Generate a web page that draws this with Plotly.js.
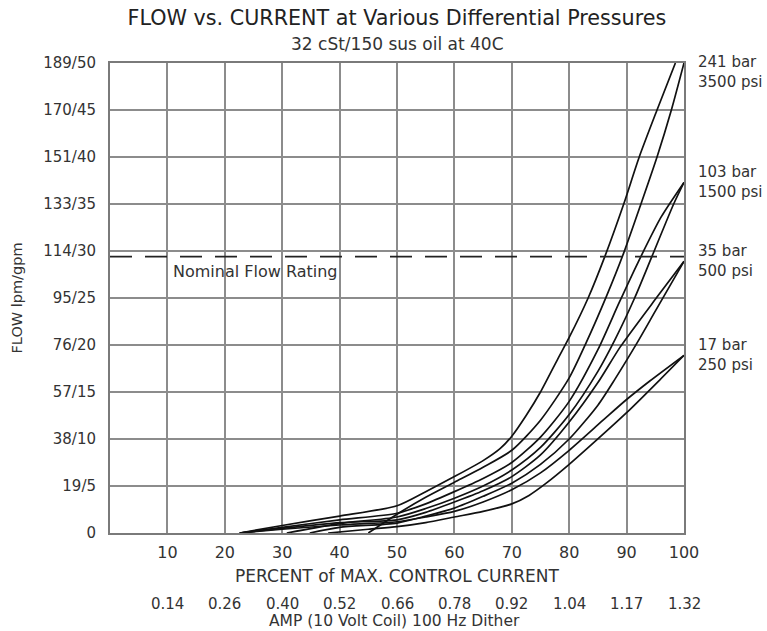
<!DOCTYPE html>
<html>
<head>
<meta charset="utf-8">
<script src="https://cdn.plot.ly/plotly-3.0.1.min.js"></script>
<style>html,body{margin:0;padding:0;background:#fff;}#chart{width:767px;height:631px;}</style>
</head>
<body>
<div id="chart"></div>
<script>
// ---- data (percent of max control current, flow gpm) ----
const pressureLabels = ["241 bar<br>3500 psi", "103 bar<br>1500 psi", "35 bar<br>500 psi", "17 bar<br>250 psi"];

const p241a_x = [22.6, 30, 40, 50, 55, 60, 65, 68, 70, 72.5, 75, 78, 80, 83.3, 86.2, 89.5, 92.2, 95.3, 98.5];
const p241a_y = [0, 0.8, 1.8, 2.9, 4.4, 6.0, 7.7, 9.0, 10.3, 12.5, 15, 18.5, 20.8, 25, 29.4, 35, 40, 45, 50];
const p241b_x = [45, 50, 55, 60, 65, 70, 75, 80, 83, 86.5, 89.5, 92.5, 95.3, 97.8, 100];
const p241b_y = [0, 2.0, 3.8, 5.4, 7.0, 8.8, 12, 16.5, 20.3, 25.2, 29.8, 35, 40, 45, 50];

const p103a_x = [22.6, 30, 40, 50, 55, 60, 65, 70, 75, 80, 85, 88.7, 92, 96, 100];
const p103a_y = [0, 0.6, 1.4, 2.1, 3.1, 4.4, 5.8, 7.5, 10.2, 14, 19.5, 24.5, 28.8, 33.6, 37.3];
const p103b_x = [30.8, 40, 50, 55, 60, 65, 70, 75, 80, 85, 88, 91.4, 94.4, 98.2, 100];
const p103b_y = [0, 1.0, 1.7, 2.6, 3.7, 5.0, 6.7, 9.1, 12.6, 17.2, 20.6, 25, 29.4, 35, 37.3];

const p35a_x = [22.6, 30, 40, 50, 55, 60, 65, 70, 75, 80, 85, 88.9, 95.3, 100];
const p35a_y = [0, 0.5, 1.1, 1.4, 2.2, 3.3, 4.5, 6.0, 8.3, 11.8, 16.0, 19.8, 25.1, 28.9];
const p35b_x = [34.8, 40, 50, 55, 60, 65, 70, 75, 80, 85, 88, 91.8, 95, 100];
const p35b_y = [0, 0.6, 1.06, 1.8, 2.65, 3.9, 5.3, 7.3, 10, 13.6, 16.4, 20.2, 23.6, 28.9];

const p17a_x = [22.6, 30, 40, 50, 55, 60, 65, 70, 75, 80, 85.9, 90, 94.1, 100];
const p17a_y = [0, 0.4, 0.85, 1.2, 1.7, 2.3, 3.3, 4.6, 6.4, 8.8, 12.0, 14.2, 16.2, 18.9];
const p17b_x = [38, 45, 50, 55, 60, 65, 70, 73, 76, 80, 84.8, 90, 95.8, 100];
const p17b_y = [0, 0.4, 0.67, 1.1, 1.7, 2.3, 3.1, 4.0, 5.3, 7.3, 9.9, 12.8, 16.3, 18.9];

const nominalFlow = 29.4;

const xTickVals = [10, 20, 30, 40, 50, 60, 70, 80, 90, 100];
const xTickText = ["10", "20", "30", "40", "50", "60", "70", "80", "90", "100"];
const ampText = ["0.14", "0.26", "0.40", "0.52", "0.66", "0.78", "0.92", "1.04", "1.17", "1.32"];
const yTickVals = [0, 5, 10, 15, 20, 25, 30, 35, 40, 45, 50];
const yTickText = ["0", "19/5", "38/10", "57/15", "76/20", "95/25", "114/30", "133/35", "151/40", "170/45", "189/50"];

// ---- chart ----
const FONT = "DejaVu Sans, Liberation Sans, Arial, sans-serif";
const TXT = "#333333";
const curveStyle = {color: "#111111", width: 1.7, shape: "spline", smoothing: 0.7};

const series = [
  [p241a_x, p241a_y, "241 bar / 3500 psi"], [p241b_x, p241b_y, "241 bar / 3500 psi"],
  [p103a_x, p103a_y, "103 bar / 1500 psi"], [p103b_x, p103b_y, "103 bar / 1500 psi"],
  [p35a_x, p35a_y, "35 bar / 500 psi"], [p35b_x, p35b_y, "35 bar / 500 psi"],
  [p17a_x, p17a_y, "17 bar / 250 psi"], [p17b_x, p17b_y, "17 bar / 250 psi"]
];

const traces = series.map(s => ({
  type: "scatter", mode: "lines", x: s[0], y: s[1], name: s[2],
  line: curveStyle, showlegend: false, hoverinfo: "x+y+name"
}));

traces.push({
  type: "scatter", mode: "lines", x: [0, 100], y: [nominalFlow, nominalFlow],
  name: "Nominal Flow Rating", showlegend: false,
  line: {color: "#222222", width: 1.6, dash: "22px,13px"}
});

const annotations = [];
// subtitle
annotations.push({
  xref: "paper", yref: "paper", x: 0.5, y: 1, yshift: 19, yanchor: "middle", xanchor: "center",
  text: "32 cSt/150 sus oil at 40C", showarrow: false, font: {family: FONT, size: 17, color: TXT}
});
// nominal flow label
annotations.push({
  xref: "x", yref: "y", x: 10.6, y: nominalFlow, yshift: -15, xanchor: "left", yanchor: "middle",
  text: "Nominal Flow Rating", showarrow: false, font: {family: FONT, size: 16, color: TXT}
});
// amp labels
xTickVals.forEach((v, i) => annotations.push({
  xref: "x", yref: "paper", x: v, y: 0, yshift: -71, xanchor: "center", yanchor: "middle",
  text: ampText[i], showarrow: false, font: {family: FONT, size: 15, color: TXT}
}));
annotations.push({
  xref: "paper", yref: "paper", x: 0.495, y: 0, yshift: -88, xanchor: "center", yanchor: "middle",
  text: "AMP (10 Volt Coil) 100 Hz Dither", showarrow: false, font: {family: FONT, size: 15.5, color: TXT}
});
// pressure labels at curve ends
const ends = [p241b_y, p103a_y, p35a_y, p17a_y];
pressureLabels.forEach((t, i) => {
  const yEnd = ends[i][ends[i].length - 1];
  annotations.push({
    xref: "paper", yref: "y", x: 1, xshift: 12, y: yEnd, yshift: i === 0 ? -9 : 0,
    xanchor: "left", yanchor: "middle", align: "left",
    text: t, showarrow: false, font: {family: FONT, size: 15, color: TXT}
  });
});

const layout = {
  width: 767, height: 631,
  margin: {l: 110, r: 83, t: 63, b: 98},
  paper_bgcolor: "#ffffff", plot_bgcolor: "#ffffff",
  font: {family: FONT, color: TXT},
  title: {
    text: "FLOW vs. CURRENT at Various Differential Pressures",
    font: {family: FONT, size: 20.7, color: "#222222"},
    x: 0.5175, xanchor: "center", y: 1 - 18 / 631, yanchor: "middle", yref: "container"
  },
  xaxis: {
    range: [0, 100], tickvals: xTickVals, ticktext: xTickText,
    showgrid: true, gridcolor: "#8c8c8c", gridwidth: 2,
    showline: true, mirror: true, linecolor: "#7a7a7a", linewidth: 2,
    zeroline: false, ticks: "", ticklabelstandoff: 4,
    tickfont: {family: FONT, size: 16, color: TXT},
    title: {text: "PERCENT of MAX. CONTROL CURRENT", standoff: 9, font: {family: FONT, size: 17, color: TXT}},
    fixedrange: true
  },
  yaxis: {
    range: [0, 50], tickvals: yTickVals, ticktext: yTickText,
    showgrid: true, gridcolor: "#8c8c8c", gridwidth: 2,
    showline: true, mirror: true, linecolor: "#7a7a7a", linewidth: 2,
    zeroline: false, ticks: "", ticklabelstandoff: 9,
    tickfont: {family: FONT, size: 15, color: TXT},
    title: {text: "FLOW lpm/gpm", standoff: 17, font: {family: FONT, size: 14.5, color: TXT}},
    fixedrange: true
  },
  annotations: annotations,
  showlegend: false
};

Plotly.newPlot("chart", traces, layout, {displayModeBar: false, staticPlot: true});
</script>
</body>
</html>
